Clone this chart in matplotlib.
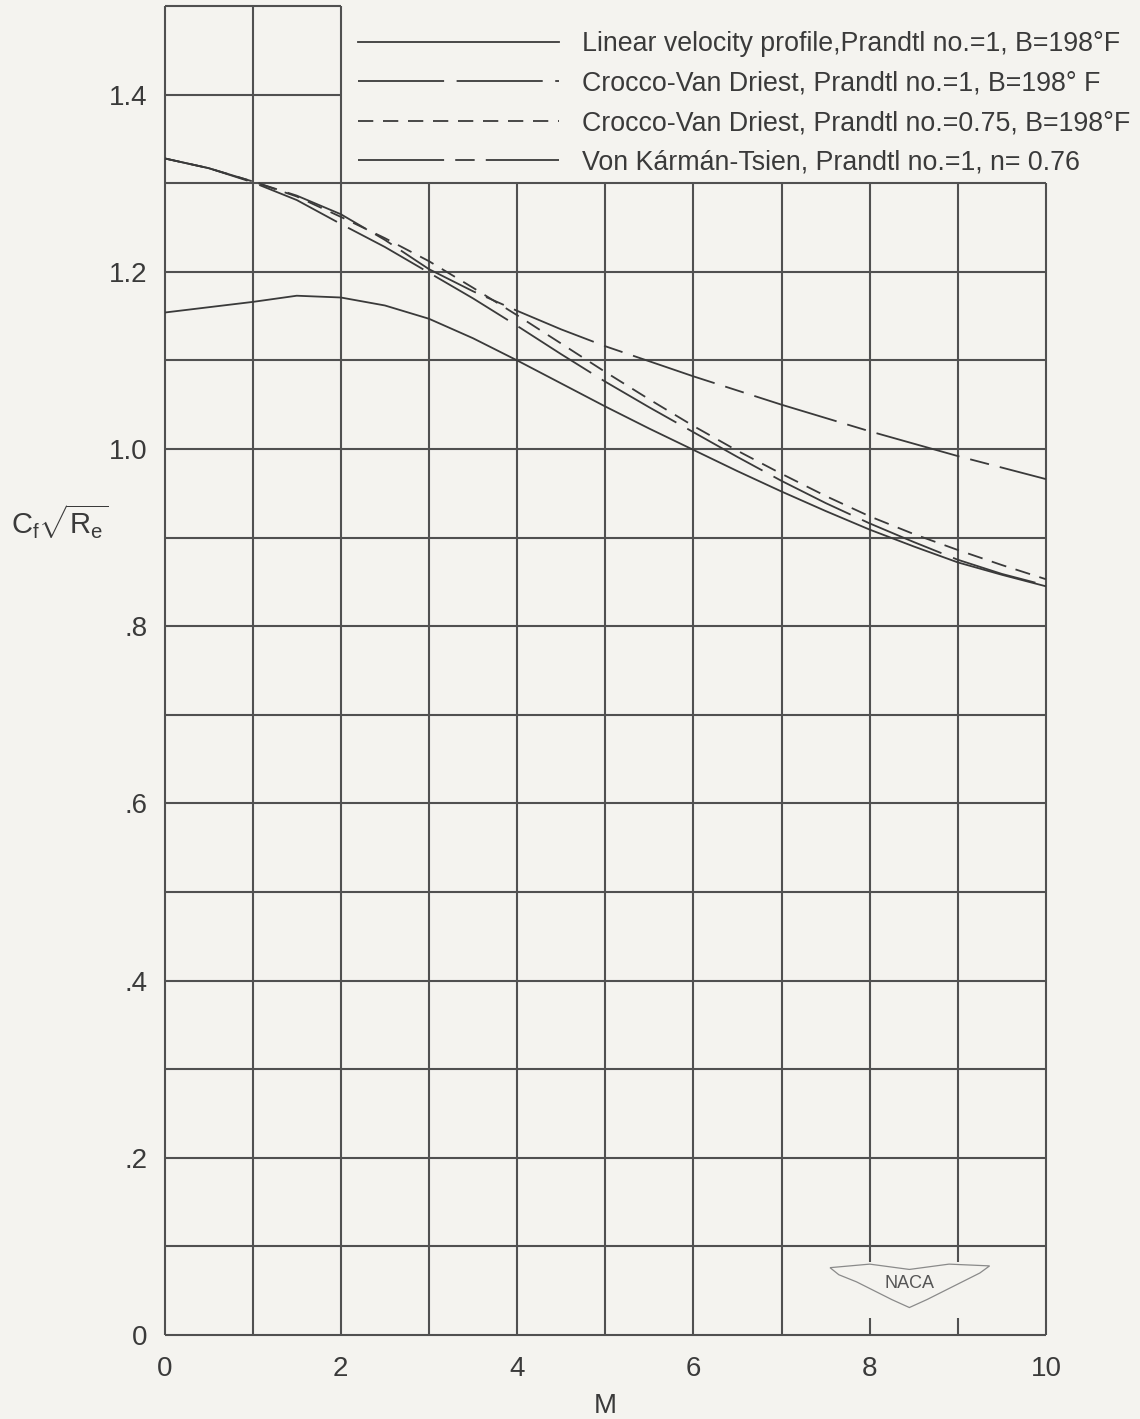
import numpy as np
import matplotlib.pyplot as plt
from matplotlib.patches import Rectangle, Polygon

plt.rcParams['font.family'] = ['Liberation Sans', 'DejaVu Sans']
plt.rcParams['lines.scale_dashes'] = False
plt.rcParams['mathtext.fontset'] = 'custom'
plt.rcParams['mathtext.rm'] = 'Liberation Sans'
plt.rcParams['mathtext.it'] = 'Liberation Sans'

# Mach number and C_f * sqrt(Re)
mach = [0, 0.5, 1, 1.5, 2, 2.5, 3, 3.5, 4, 4.5, 5,
        5.5, 6, 6.5, 7, 7.5, 8, 8.5, 9, 9.5, 10]
linear = [1.154, 1.160, 1.166, 1.173, 1.171, 1.162, 1.147, 1.125, 1.100, 1.074, 1.048,
          1.023, 0.999, 0.975, 0.952, 0.930, 0.909, 0.890, 0.872, 0.858, 0.845]
crocco_pr1 = [1.328, 1.317, 1.301, 1.281, 1.254, 1.228, 1.199, 1.170, 1.139, 1.107, 1.076,
              1.047, 1.019, 0.991, 0.964, 0.939, 0.916, 0.895, 0.875, 0.859, 0.846]
crocco_pr075 = [1.328, 1.317, 1.302, 1.285, 1.262, 1.238, 1.212, 1.182, 1.151, 1.119, 1.087,
                1.056, 1.026, 0.998, 0.972, 0.947, 0.924, 0.904, 0.886, 0.869, 0.853]
karman_tsien = [1.328, 1.317, 1.302, 1.286, 1.265, 1.236, 1.203, 1.178, 1.156, 1.135, 1.116,
                1.099, 1.082, 1.066, 1.050, 1.035, 1.020, 1.006, 0.992, 0.979, 0.966]

labels = ['Linear velocity profile,Prandtl no.=1, B=198°F',
          'Crocco-Van Driest, Prandtl no.=1, B=198° F',
          'Crocco-Van Driest, Prandtl no.=0.75, B=198°F',
          'Von Kármán-Tsien, Prandtl no.=1, n= 0.76']

xticks = [0, 2, 4, 6, 8, 10]
yticks = [0, 0.2, 0.4, 0.6, 0.8, 1.0, 1.2, 1.4]
ytick_labels = ['0', '.2', '.4', '.6', '.8', '1.0', '1.2', '1.4']

bg = '#f4f3ef'
ink = '#3a3a3a'

fig = plt.figure(figsize=(11.4, 14.19), dpi=100, facecolor=bg)
ax = fig.add_axes([164.5 / 1140, 1 - 1335 / 1419, 881.5 / 1140, 1329 / 1419])
ax.set_facecolor(bg)
ax.set_xlim(0, 10)
ax.set_ylim(0, 1.5)
for s in ax.spines.values():
    s.set_visible(False)

# grid: the upper right corner is left open for the key
gx = np.arange(11)
ax.vlines(gx, 0, np.where(gx <= 2, 1.5, 1.3), color='#505050', lw=1.5, zorder=1, clip_on=False)
gy = np.round(np.arange(0, 1.51, 0.1), 1)
ax.hlines(gy, 0, np.where(gy <= 1.3, 10, 2), color='#505050', lw=1.5, zorder=1, clip_on=False)

styles = [dict(ls='-'),
          dict(ls=(0, (62, 9))),
          dict(ls=(0, (11, 7))),
          dict(ls=(0, (62, 8, 14, 8)))]
handles = []
for ys, st, lab in zip([linear, crocco_pr1, crocco_pr075, karman_tsien], styles, labels):
    h, = ax.plot(mach, ys, color=ink, lw=1.3, zorder=3, label=lab, **st)
    handles.append(h)

leg = ax.legend(handles=handles, loc='upper left', bbox_to_anchor=(2.19, 1.4715),
                bbox_transform=ax.transData, frameon=False, handlelength=7.5,
                handletextpad=0.86, labelspacing=0.50, borderpad=0, borderaxespad=0,
                prop={'size': 19.3})
for t in leg.get_texts():
    t.set_color(ink)

ax.set_xticks(xticks)
ax.set_xticklabels([str(v) for v in xticks])
ax.set_yticks(yticks)
ax.set_yticklabels(ytick_labels)
ax.tick_params(length=0, labelsize=20, colors=ink)
ax.tick_params(axis='x', pad=15)
ax.tick_params(axis='y', pad=12)

ax.set_xlabel('M', fontsize=20, color=ink, labelpad=8)
fig.text(0.052, 1 - 522 / 1419, r'$C_f\sqrt{R_e}$', fontsize=21, color=ink,
         ha='center', va='center')

# NACA wing logo, bottom right
ax.add_patch(Rectangle((7.7, 0.019), 1.5, 0.063, facecolor=bg, edgecolor='none', zorder=2))
wing = [(7.55, 0.076), (8.0, 0.080), (8.45, 0.074), (8.9, 0.080), (9.36, 0.078),
        (9.25, 0.070), (9.05, 0.060), (8.85, 0.050), (8.65, 0.040), (8.45, 0.031),
        (8.25, 0.040), (8.05, 0.050), (7.85, 0.060), (7.65, 0.068)]
ax.add_patch(Polygon(wing, closed=True, facecolor='none', edgecolor='#8a8a8a', lw=0.9, zorder=2))
ax.text(8.45, 0.058, 'NACA', ha='center', va='center', fontsize=13, color='#555555', zorder=3)

fig.savefig('out.png', dpi=100, facecolor=bg)
